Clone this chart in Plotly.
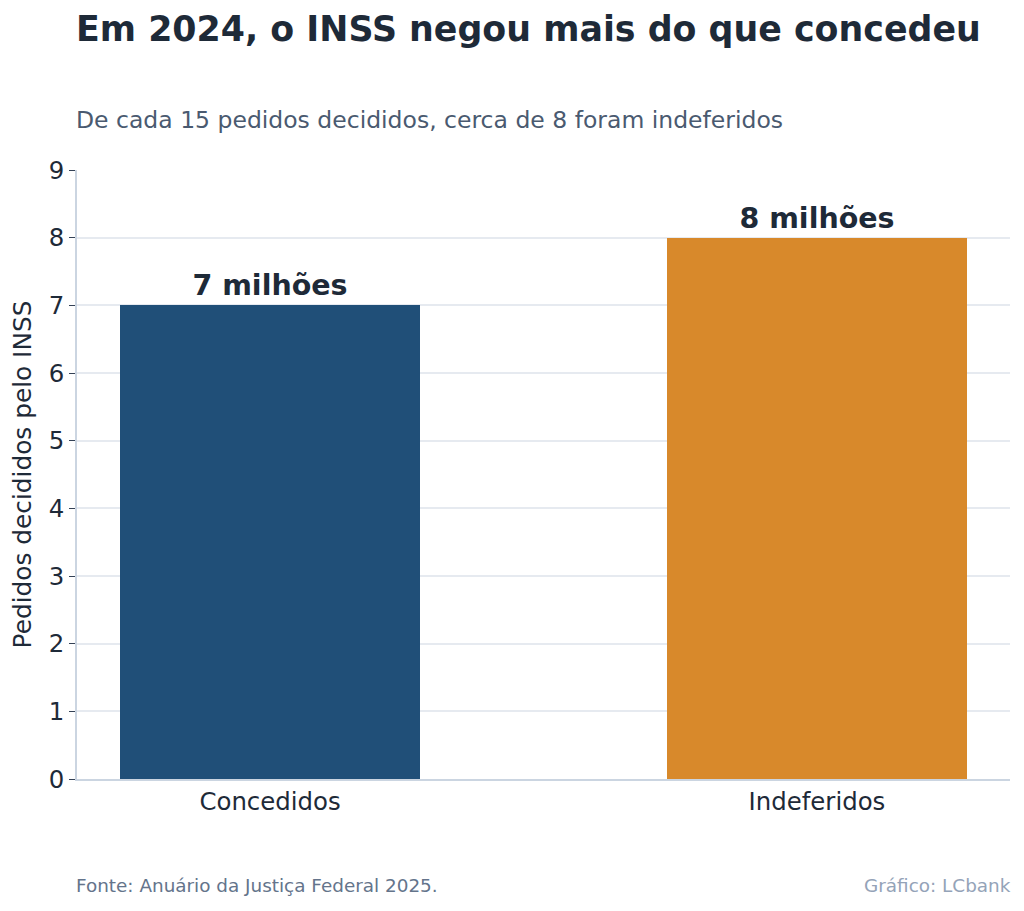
import plotly.graph_objects as go

categories = ["Concedidos", "Indeferidos"]
values = [7, 8]
labels = ["7 milhões", "8 milhões"]
colors = ["#204f78", "#d8892b"]

title = "Em 2024, o INSS negou mais do que concedeu"
subtitle = "De cada 15 pedidos decididos, cerca de 8 foram indeferidos"
y_title = "Pedidos decididos pelo INSS"
source = "Fonte: Anuário da Justiça Federal 2025."
credit = "Gráfico: LCbank"

FONT = "DejaVu Sans"
DARK = "#1e2a38"

fig = go.Figure(go.Bar(
    x=categories, y=values, width=0.55,
    marker=dict(color=colors, line=dict(width=0)),
    text=labels, textposition="outside", cliponaxis=False,
    textfont=dict(family=FONT, size=28.5, color=DARK, weight="bold"),
    hoverinfo="skip",
))

fig.update_layout(
    width=1024, height=911,
    margin=dict(l=69, r=22, t=162, b=140, autoexpand=False),
    paper_bgcolor="white", plot_bgcolor="white",
    font=dict(family=FONT, color=DARK),
    showlegend=False,
    bargap=0,
    xaxis=dict(
        range=[-0.353, 1.353], showgrid=False,
        showline=True, linecolor="#cbd5e1", linewidth=1.5,
        ticks="", tickfont=dict(size=24.4, color=DARK, family=FONT),
        fixedrange=True,
    ),
    yaxis=dict(
        range=[0, 9], dtick=1, showgrid=True, gridcolor="#e6eaf0", gridwidth=1.5,
        showline=True, linecolor="#cbd5e1", linewidth=1.5,
        ticks="outside", ticklen=6, tickcolor="#334155", tickwidth=1,
        tickfont=dict(size=24.4, color=DARK, family=FONT),
        title=dict(text=y_title, font=dict(size=24.8, color=DARK, family=FONT), standoff=12),
        zeroline=False, fixedrange=True,
    ),
    annotations=[
        dict(text=title, xref="paper", yref="paper", x=0, y=(779 - 29) / 609,
             xanchor="left", yanchor="middle", showarrow=False, xshift=-3,
             font=dict(family=FONT, size=34.8, color=DARK, weight="bold")),
        dict(text=subtitle, xref="paper", yref="paper", x=0, y=(779 - 120) / 609,
             xanchor="left", yanchor="middle", showarrow=False, xshift=-3,
             font=dict(family=FONT, size=23.5, color="#4a5a70")),
        dict(text=source, xref="paper", yref="paper", x=0, y=(779 - 886) / 609,
             xanchor="left", yanchor="middle", showarrow=False, xshift=-3,
             font=dict(family=FONT, size=18.4, color="#64748b")),
        dict(text=credit, xref="paper", yref="paper", x=1, y=(779 - 886) / 609,
             xanchor="right", yanchor="middle", showarrow=False, xshift=3,
             font=dict(family=FONT, size=18.4, color="#94a3b8")),
    ],
)

fig.write_html("out.html")
